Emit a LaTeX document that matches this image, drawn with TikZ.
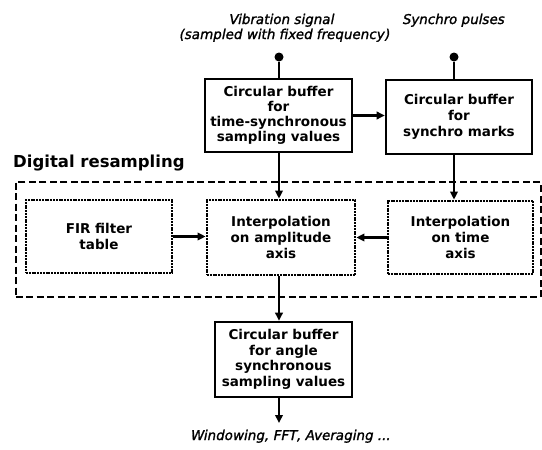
\documentclass[tikz,border=0pt]{standalone}
\usepackage{fontspec}
\setmainfont{DejaVu Sans}
\newfontfamily\labfont{DejaVu Sans}[FakeSlant=0.2,FakeBold=1.5]
\usetikzlibrary{arrows.meta,calc}
\begin{document}
\begin{tikzpicture}[x=1pt,y=-1pt,
  bx/.style={draw,line width=2.6pt,inner sep=0pt,align=center,
    font=\bfseries\fontsize{13.5}{16}\selectfont},
  dbx/.style={bx,line width=2.8pt,dash pattern=on 2pt off 0.8pt},
  dashbox/.style={draw,line width=2pt,dash pattern=on 7pt off 3.5pt,inner sep=0pt},
  lab/.style={font=\labfont\fontsize{13.5}{15}\selectfont,anchor=base,inner sep=0pt},
  dot/.style={circle,fill,inner sep=0pt,minimum size=9pt},
  ln/.style={line width=2.5pt},
  arr/.style={line width=2.5pt,-{Triangle[length=8pt,width=7.5pt]}}]
\useasboundingbox (0,0) rectangle (542,450);
% outer dashed region
\node[dashbox,minimum width=525pt,minimum height=115pt] (dr) at (278,239.5) {};
\node[anchor=base west,inner sep=0pt,font=\bfseries\fontsize{16.5}{18}\selectfont] (dlab) at (13,167) {Digital resampling};
% top labels
\node[lab] (vib1) at (281,24) {Vibration signal};
\node[lab] (vib2) at (284,39) {(sampled with fixed frequency)};
\node[lab] (syn) at (453,24) {Synchro pulses};
\node[dot] (d1) at (279,57) {};
\node[dot] (d2) at (454,57) {};
% boxes
\node[bx,minimum width=147pt,minimum height=73pt,font=\bfseries\fontsize{13.5}{15}\selectfont] (b1) at (278.5,115.5)
  {Circular buffer\\for\\time-synchronous\\sampling values};
\node[bx,minimum width=146pt,minimum height=74pt] (b2) at (459,117)
  {Circular buffer\\for\\synchro marks};
\node[dbx,minimum width=146pt,minimum height=73pt] (fir) at (99,236.5)
  {FIR filter\\table};
\node[dbx,minimum width=148pt,minimum height=75pt] (amp) at (281,237.5)
  {Interpolation\\on amplitude\\axis};
\node[dbx,minimum width=145pt,minimum height=73pt] (tim) at (460.5,237.5)
  {Interpolation\\on time\\axis};
\node[bx,minimum width=137pt,minimum height=75pt,font=\bfseries\fontsize{13.5}{15.5}\selectfont] (ang) at (283.5,359.5)
  {Circular buffer\\for angle\\synchronous\\sampling values};
\coordinate (out) at (279,423);
\node[lab] (win) at (290,440) {Windowing, FFT, Averaging ...};
% connectors
\draw[ln] (d1) -- (b1.north -| d1);
\draw[ln] (d2) -- (b2.north -| d2);
\draw[arr] (b1.east) -- (b2.west |- b1.east);
\draw[arr] (b1.south -| d1) -- (amp.north -| d1);
\draw[arr] (b2.south -| d2) -- (tim.north -| d2);
\draw[arr] (fir.east) -- (amp.west |- fir.east);
\draw[arr] (tim.west) -- (amp.east |- tim.west);
\draw[arr] (amp.south -| d1) -- (ang.north -| d1);
\draw[arr] (ang.south -| d1) -- (out);
\end{tikzpicture}
\end{document}
